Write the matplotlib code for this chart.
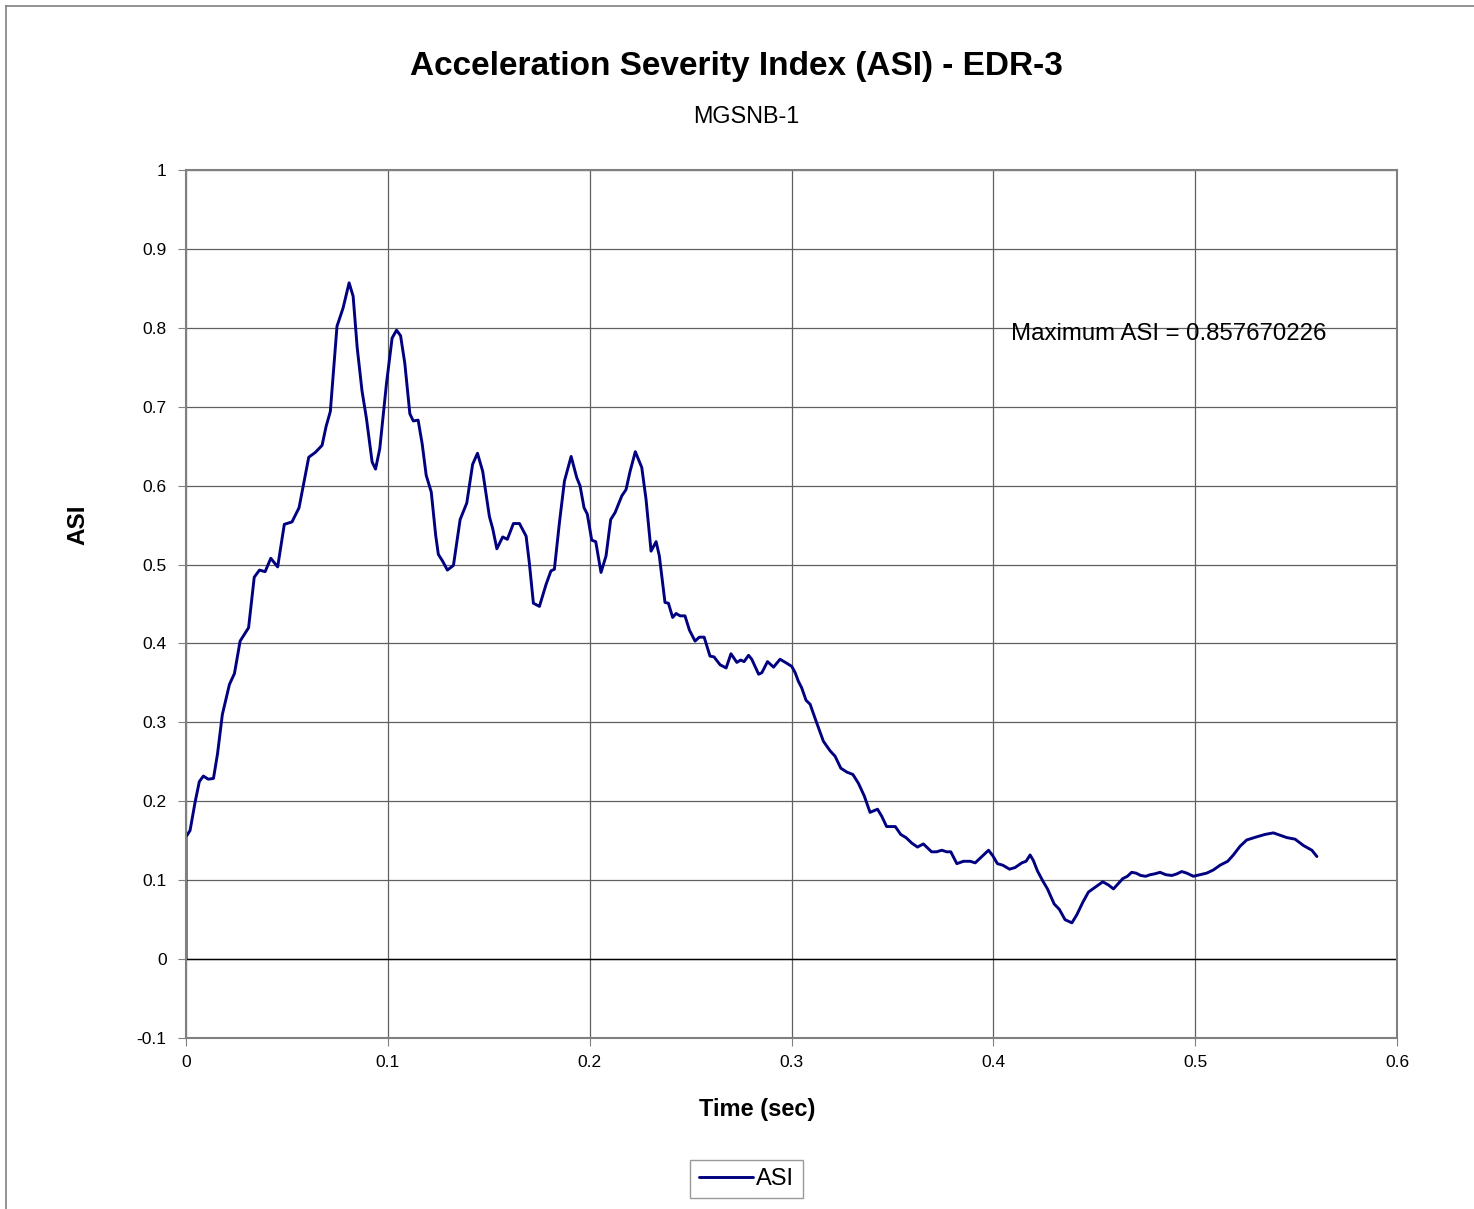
import matplotlib
matplotlib.use('Agg')
import matplotlib.pyplot as plt
from matplotlib.lines import Line2D

plt.rcParams['font.family'] = ['Liberation Sans', 'DejaVu Sans']

# ASI curve (time in sec, ASI)
time = [0.0, 0.0, 0.002, 0.0045, 0.0066, 0.0086, 0.011, 0.0136, 0.0156, 0.018,
        0.0215, 0.024, 0.0268, 0.031, 0.0338, 0.0364, 0.0392, 0.042, 0.0454, 0.0487,
        0.0525, 0.056, 0.0608, 0.064, 0.0674, 0.0694, 0.0715, 0.0748, 0.0778, 0.0808,
        0.0828, 0.0848, 0.0872, 0.0894, 0.0922, 0.0939, 0.096, 0.0993, 0.1021, 0.1043,
        0.1063, 0.1084, 0.1109, 0.1126, 0.115, 0.117, 0.119, 0.1215, 0.1237, 0.125,
        0.1272, 0.1295, 0.1325, 0.1358, 0.1391, 0.142, 0.1444, 0.147, 0.1503, 0.152,
        0.154, 0.1569, 0.1592, 0.1622, 0.1652, 0.1685, 0.1701, 0.1721, 0.1751, 0.1784,
        0.1808, 0.1825, 0.185, 0.1875, 0.1908, 0.1936, 0.1952, 0.1972, 0.1988, 0.201,
        0.203, 0.2056, 0.2081, 0.2104, 0.2126, 0.2159, 0.218, 0.22, 0.2226, 0.2258,
        0.2279, 0.2304, 0.2329, 0.2345, 0.2373, 0.239, 0.2411, 0.2428, 0.2448, 0.2472,
        0.2494, 0.2522, 0.2543, 0.2567, 0.2596, 0.2616, 0.2646, 0.2676, 0.27, 0.2729,
        0.2748, 0.2765, 0.2787, 0.2803, 0.2837, 0.2853, 0.2881, 0.2911, 0.2943, 0.2976,
        0.3001, 0.3018, 0.3034, 0.305, 0.3072, 0.3092, 0.3121, 0.3158, 0.3191, 0.3216,
        0.3244, 0.3274, 0.3304, 0.3331, 0.336, 0.3389, 0.3426, 0.3447, 0.3471, 0.3514,
        0.3541, 0.3567, 0.3596, 0.3624, 0.3653, 0.3694, 0.3719, 0.3744, 0.3769, 0.3789,
        0.3819, 0.3852, 0.3885, 0.391, 0.3943, 0.3976, 0.3997, 0.402, 0.4047, 0.408,
        0.4107, 0.4141, 0.4162, 0.4182, 0.4198, 0.4218, 0.4245, 0.4268, 0.4301, 0.4327,
        0.4355, 0.4389, 0.4413, 0.4443, 0.4471, 0.4504, 0.4542, 0.457, 0.4595, 0.462,
        0.4641, 0.4664, 0.4685, 0.4707, 0.473, 0.4755, 0.4777, 0.4798, 0.4826, 0.4854,
        0.4884, 0.4909, 0.4933, 0.4958, 0.4991, 0.5024, 0.5057, 0.509, 0.5123, 0.5161,
        0.5189, 0.5222, 0.5255, 0.5305, 0.5346, 0.5387, 0.5421, 0.5454, 0.5495, 0.5536,
        0.5578, 0.5603]
asi = [0.0, 0.155, 0.163, 0.199, 0.225, 0.232, 0.228, 0.229, 0.26, 0.31,
       0.348, 0.362, 0.403, 0.42, 0.484, 0.493, 0.491, 0.508, 0.497, 0.551,
       0.554, 0.572, 0.636, 0.642, 0.651, 0.675, 0.694, 0.802, 0.825, 0.857,
       0.84, 0.775, 0.72, 0.685, 0.63, 0.621, 0.647, 0.729, 0.787, 0.797,
       0.79, 0.755, 0.691, 0.682, 0.683, 0.653, 0.613, 0.592, 0.537, 0.513,
       0.504, 0.493, 0.499, 0.557, 0.578, 0.627, 0.641, 0.618, 0.561, 0.545,
       0.52, 0.535, 0.532, 0.552, 0.552, 0.536, 0.502, 0.451, 0.447, 0.475,
       0.492, 0.494, 0.553, 0.606, 0.637, 0.61, 0.6, 0.572, 0.564, 0.531,
       0.529, 0.49, 0.511, 0.557, 0.566, 0.587, 0.595, 0.618, 0.643, 0.623,
       0.583, 0.517, 0.529, 0.511, 0.452, 0.451, 0.433, 0.438, 0.435, 0.435,
       0.417, 0.403, 0.408, 0.408, 0.384, 0.383, 0.373, 0.369, 0.387, 0.376,
       0.379, 0.377, 0.385, 0.38, 0.361, 0.363, 0.377, 0.37, 0.38, 0.375,
       0.371, 0.363, 0.352, 0.344, 0.328, 0.323, 0.302, 0.276, 0.264, 0.257,
       0.242, 0.237, 0.234, 0.223, 0.207, 0.186, 0.19, 0.181, 0.168, 0.168,
       0.158, 0.154, 0.147, 0.142, 0.146, 0.136, 0.136, 0.138, 0.136, 0.136,
       0.121, 0.124, 0.124, 0.122, 0.13, 0.138, 0.131, 0.121, 0.119, 0.114,
       0.116, 0.122, 0.124, 0.132, 0.125, 0.112, 0.099, 0.089, 0.07, 0.063,
       0.05, 0.046, 0.056, 0.072, 0.085, 0.091, 0.098, 0.094, 0.089, 0.096,
       0.102, 0.105, 0.11, 0.109, 0.106, 0.105, 0.107, 0.108, 0.11, 0.107,
       0.106, 0.108, 0.111, 0.109, 0.105, 0.107, 0.109, 0.113, 0.119, 0.124,
       0.132, 0.143, 0.151, 0.155, 0.158, 0.16, 0.157, 0.154, 0.152, 0.144,
       0.138, 0.13]

max_asi = 0.857670226
x_ticks = [0, 0.1, 0.2, 0.3, 0.4, 0.5, 0.6]
y_ticks = [-0.1, 0, 0.1, 0.2, 0.3, 0.4, 0.5, 0.6, 0.7, 0.8, 0.9, 1]
x_labels = ['0', '0.1', '0.2', '0.3', '0.4', '0.5', '0.6']
y_labels = ['-0.1', '0', '0.1', '0.2', '0.3', '0.4', '0.5', '0.6', '0.7', '0.8', '0.9', '1']

fig = plt.figure(figsize=(14.74, 12.09), dpi=100)
ax = fig.add_axes([0.1262, 0.1414, 0.8216, 0.718])

line, = ax.plot(time, asi, color='#000080', linewidth=2.1, label='ASI',
                solid_joinstyle='round', solid_capstyle='round')

ax.set_xlim(0, 0.6)
ax.set_ylim(-0.1, 1)
ax.set_xticks(x_ticks)
ax.set_yticks(y_ticks)
ax.set_xticklabels(x_labels)
ax.set_yticklabels(y_labels)
ax.tick_params(axis='both', labelsize=12.5, length=6, color='#808080', direction='out')
ax.tick_params(axis='y', pad=8)
ax.tick_params(axis='x', pad=6)
ax.grid(True, color='#606060', linewidth=0.9)
ax.axhline(0, color='black', linewidth=1.0)
for s in ax.spines.values():
    s.set_color('#808080')
    s.set_linewidth(1.5)

ax.text(0.4088, 0.792, f'Maximum ASI = {max_asi}', fontsize=17.3, va='center', ha='left')

fig.text(0.4997, 0.945, 'Acceleration Severity Index (ASI) - EDR-3', ha='center', va='center',
         fontsize=24, fontweight='bold')
fig.text(0.5061, 0.9033, 'MGSNB-1', ha='center', va='center', fontsize=16.8)
fig.text(0.5136, 0.0819, 'Time (sec)', ha='center', va='center', fontsize=17, fontweight='bold')
fig.text(0.0529, 0.5658, 'ASI', ha='center', va='center', fontsize=17.5, fontweight='bold',
         rotation=90)

leg = fig.legend(handles=[line], loc='center', bbox_to_anchor=(0.5064, 0.0248), fontsize=17,
                 frameon=True, fancybox=False, handlelength=2.3, handletextpad=0.15,
                 borderpad=0.35)
leg.get_frame().set_edgecolor('#808080')
leg.get_frame().set_linewidth(1.0)

# outer chart border
fig.add_artist(Line2D([0.004, 1.0], [0.995, 0.995], transform=fig.transFigure, color='#808080', linewidth=1.2))
fig.add_artist(Line2D([0.004, 0.004], [0.0, 0.995], transform=fig.transFigure, color='#808080', linewidth=1.2))

fig.savefig('out.png', dpi=100)
